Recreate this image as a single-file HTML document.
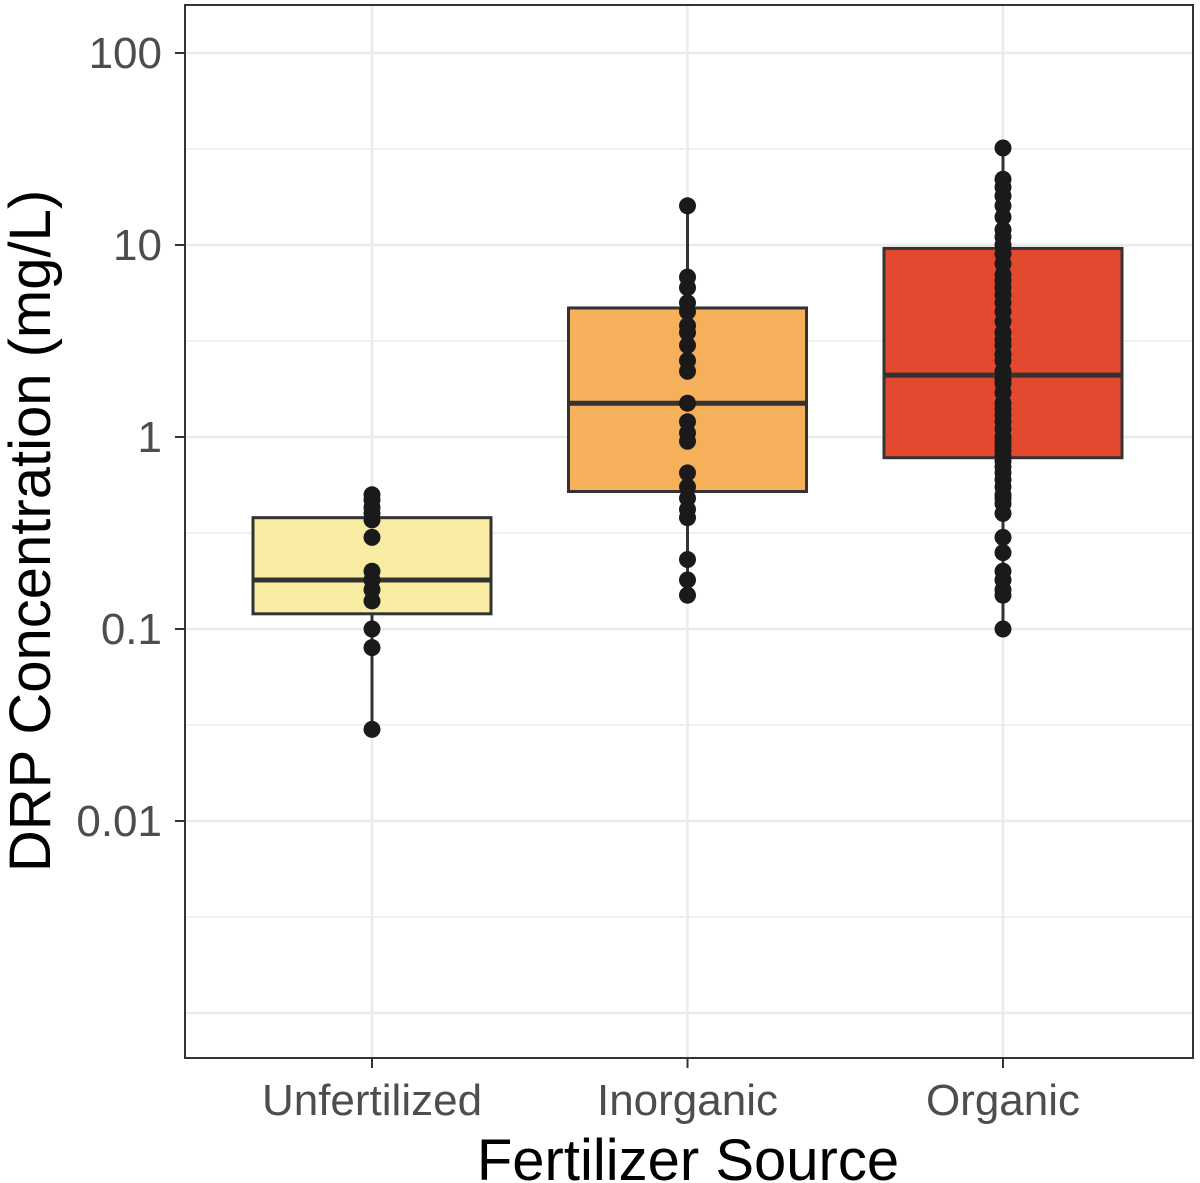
<!DOCTYPE html>
<html><head><meta charset="utf-8"><style>
body{margin:0;background:#fff;}
svg{display:block;font-family:"Liberation Sans",Arial,sans-serif;}
</style></head><body>
<svg id="chart" width="1200" height="1183" xmlns="http://www.w3.org/2000/svg">
<g id="grid"></g>
<g id="boxes"></g>
<g id="pts"></g>
<rect x="185" y="5" width="1008" height="1053" fill="none" stroke="#333" stroke-width="2"/>
<g id="axes"></g>
<text x="688" y="1180" font-size="58" text-anchor="middle" fill="#000">Fertilizer Source</text>
<text transform="translate(50,531) rotate(-90)" font-size="58" text-anchor="middle" fill="#000">DRP Concentration (mg/L)</text>
</svg>
<script>
const categories=["Unfertilized","Inorganic","Organic"];
const colors=["#F8ECA3","#F6B05C","#E3492F"];
const q1=[0.12,0.52,0.78];
const medians=[0.18,1.5,2.1];
const q3=[0.38,4.7,9.6];
const whiskLow=[0.03,0.15,0.1];
const whiskHigh=[0.5,16,32];
const tickValues=[100,10,1,0.1,0.01];
const tickLabels=["100","10","1","0.1","0.01"];
const pointsUnfert=[0.5,0.47,0.43,0.4,0.37,0.3,0.2,0.18,0.16,0.14,0.1,0.08,0.03];
const pointsInorg=[16,6.8,6,5,4.5,3.8,3.5,3,2.5,2.2,1.5,1.2,1.05,0.95,0.65,0.55,0.48,0.42,0.38,0.23,0.18,0.15];
const pointsOrg=[32,22,20,18,16,14,12,11,10,9,8,7,6.5,6,5.5,5,4.5,4,3.5,3.2,3,2.7,2.5,2.2,2,1.9,1.7,1.5,1.4,1.3,1.2,1.1,1,0.95,0.9,0.85,0.8,0.75,0.7,0.65,0.6,0.55,0.5,0.48,0.45,0.4,0.3,0.25,0.2,0.18,0.16,0.15,0.1];
const allPoints=[pointsUnfert,pointsInorg,pointsOrg];
const NS="http://www.w3.org/2000/svg";
function y(v){return 437-192*Math.log10(v);}
function x(i){return 372+i*315.5;}
const half=119;
function mk(t,a,p){const e=document.createElementNS(NS,t);for(const k in a)e.setAttribute(k,a[k]);p.appendChild(e);return e;}
const grid=document.getElementById('grid'),boxes=document.getElementById('boxes'),pts=document.getElementById('pts'),axes=document.getElementById('axes');
for(let d=-3;d<=2.5;d+=0.5){const yy=y(Math.pow(10,d));if(yy<5||yy>1058)continue;
const l=mk('line',{x1:185,x2:1193,y1:yy,y2:yy,stroke:'#ebebeb','stroke-width':Number.isInteger(d)?2.5:1.5},grid);
}
categories.forEach((c,i)=>{const l=mk('line',{x1:x(i),x2:x(i),y1:5,y2:1058,stroke:'#ebebeb','stroke-width':2.5},grid);
});
categories.forEach((c,i)=>{
const w=mk('line',{x1:x(i),x2:x(i),y1:y(whiskLow[i]),y2:y(whiskHigh[i]),stroke:'#333','stroke-width':3},boxes);

const r=mk('rect',{x:x(i)-half,y:y(q3[i]),width:2*half,height:y(q1[i])-y(q3[i]),fill:colors[i],stroke:'#333','stroke-width':3},boxes);

const m=mk('line',{x1:x(i)-half,x2:x(i)+half,y1:y(medians[i]),y2:y(medians[i]),stroke:'#333','stroke-width':5},boxes);

allPoints[i].forEach(v=>{const p=mk('circle',{cx:x(i),cy:y(v),r:8.5,fill:'#1a1a1a'},pts);
});
const t=mk('text',{x:x(i),y:1115,'font-size':44,'text-anchor':'middle',fill:'#4d4d4d'},axes);t.textContent=c;

const tk=mk('line',{x1:x(i),x2:x(i),y1:1058,y2:1068,stroke:'#333','stroke-width':2},axes);

});
tickValues.forEach((v,k)=>{const t=mk('text',{x:162,y:y(v)+15,'font-size':44,'text-anchor':'end',fill:'#4d4d4d'},axes);t.textContent=tickLabels[k];

const tk=mk('line',{x1:175,x2:185,y1:y(v),y2:y(v),stroke:'#333','stroke-width':2},axes);
});
</script>
</body></html>
